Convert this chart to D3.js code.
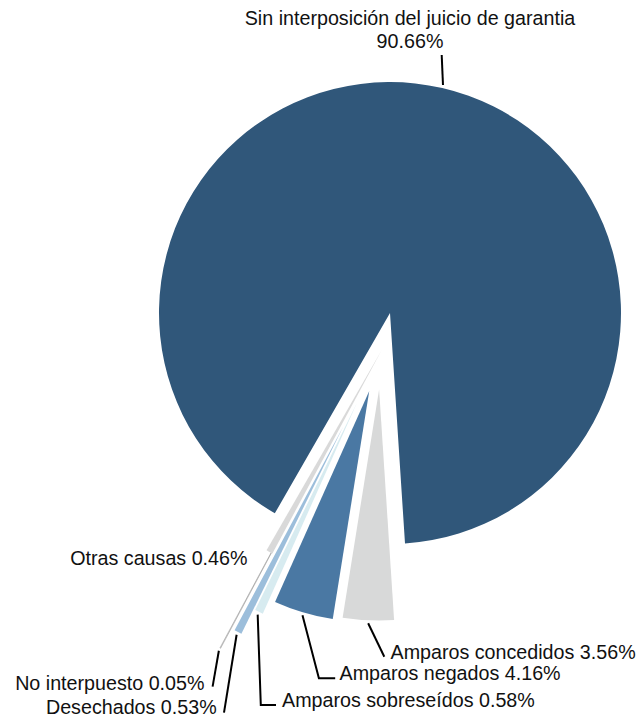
<!DOCTYPE html>
<html>
<head>
<meta charset="utf-8">
<script src="https://cdn.jsdelivr.net/npm/d3@7"></script>
<style>
  html, body { margin: 0; padding: 0; background: #ffffff; }
  svg { display: block; }
  text { font-family: "Liberation Sans", Arial, Helvetica, sans-serif; fill: #111; }
</style>
</head>
<body>
<div id="chart"></div>
<script>
// Categories and their shares (percent)
const categories = [
  "Sin interposición del juicio de garantia",
  "Amparos concedidos",
  "Amparos negados",
  "Amparos sobreseídos",
  "Desechados",
  "No interpuesto",
  "Otras causas"
];
const shares = [90.66, 3.56, 4.16, 0.58, 0.53, 0.05, 0.46];
const shareLabels = ["90.66%", "3.56%", "4.16%", "0.58%", "0.53%", "0.05%", "0.46%"];

// Slice colours
const colors = ["#30577a", "#d8d9d9", "#4a78a3", "#d7ebf0", "#9cbedb", "#ececec", "#d9d9d9"];

// Pull-out of each slice: [distance px, direction deg (0 = up, clockwise)]
const explode = [[0, 0], [77.3, 188.1], [80.7, 194.9], [95.6, 200.2], [122.7, 202.4], [144.8, 204.8], [38, 192.6]];

// Label placement: anchor point, text-anchor, leader end (elbow) and optional horizontal tail
const labelLayout = [
  { x: 410, y: 25, anchor: "middle", lines: 2, leaderEnd: [441.7, 55], tail: null },
  { x: 390.5, y: 658.5, anchor: "start", leaderEnd: [384.3, 656.7], tail: null },
  { x: 339.5, y: 680, anchor: "start", leaderEnd: [318.9, 678.3], tail: 335.2 },
  { x: 282, y: 707, anchor: "start", leaderEnd: [260.8, 705], tail: 276 },
  { x: 216.7, y: 714, anchor: "end", leaderEnd: [224, 712.7], tail: null },
  { x: 204.5, y: 690, anchor: "end", leaderEnd: [212.6, 686.7], tail: null },
  { x: 247.5, y: 565, anchor: "end", leaderEnd: null, tail: null }
];

const width = 641, height = 717;
const cx = 390, cy = 313, radius = 231;
const startDeg = -150.1;
const toRad = d => d * Math.PI / 180;

const svg = d3.select("#chart").append("svg")
  .attr("width", width).attr("height", height)
  .attr("viewBox", [0, 0, width, height]);

const data = categories.map((c, i) => ({ name: c, value: shares[i], idx: i }));

const pie = d3.pie()
  .sort(null)
  .value(d => d.value)
  .startAngle(toRad(startDeg))
  .endAngle(toRad(startDeg) + 2 * Math.PI);

const arcs = pie(data);
const arc = d3.arc().innerRadius(0).outerRadius(radius);

const offsetOf = i => {
  const [d, a] = explode[i];
  return [d * Math.sin(toRad(a)), -d * Math.cos(toRad(a))];
};

const g = svg.append("g").attr("transform", `translate(${cx},${cy})`);

g.selectAll("path.slice")
  .data(arcs)
  .join("path")
  .attr("class", "slice")
  .attr("transform", d => {
    const [ox, oy] = offsetOf(d.data.idx);
    return `translate(${ox},${oy})`;
  })
  .attr("d", arc)
  .attr("fill", d => colors[d.data.idx])
  .attr("stroke", d => d.data.idx === 5 ? "#9a9a9a" : "none")
  .attr("stroke-width", d => d.data.idx === 5 ? 0.6 : 0);

// Leader lines: from just outside each slice's outer edge at its mid-angle to the label
const leaders = svg.append("g")
  .attr("fill", "none")
  .attr("stroke", "#000")
  .attr("stroke-width", 2);

arcs.forEach(d => {
  const i = d.data.idx;
  const lay = labelLayout[i];
  if (!lay.leaderEnd) return;
  const mid = (d.startAngle + d.endAngle) / 2;
  const [ox, oy] = offsetOf(i);
  const r = radius + 3;
  const sx = cx + ox + r * Math.sin(mid);
  const sy = cy + oy - r * Math.cos(mid);
  const pts = [[sx, sy], lay.leaderEnd];
  if (lay.tail !== null) pts.push([lay.tail, lay.leaderEnd[1]]);
  leaders.append("path").attr("d", d3.line()(pts));
});

// Labels
const labels = svg.append("g").style("font-size", "19.7px");
labelLayout.forEach((lay, i) => {
  if (lay.lines === 2) {
    const t = labels.append("text")
      .attr("x", lay.x).attr("y", lay.y)
      .attr("text-anchor", lay.anchor);
    t.append("tspan").attr("x", lay.x).attr("dy", 0).text(categories[i]);
    t.append("tspan").attr("x", lay.x).attr("dy", 23.3).text(shareLabels[i]);
  } else {
    labels.append("text")
      .attr("x", lay.x).attr("y", lay.y)
      .attr("text-anchor", lay.anchor)
      .text(`${categories[i]} ${shareLabels[i]}`);
  }
});
</script>
</body>
</html>
